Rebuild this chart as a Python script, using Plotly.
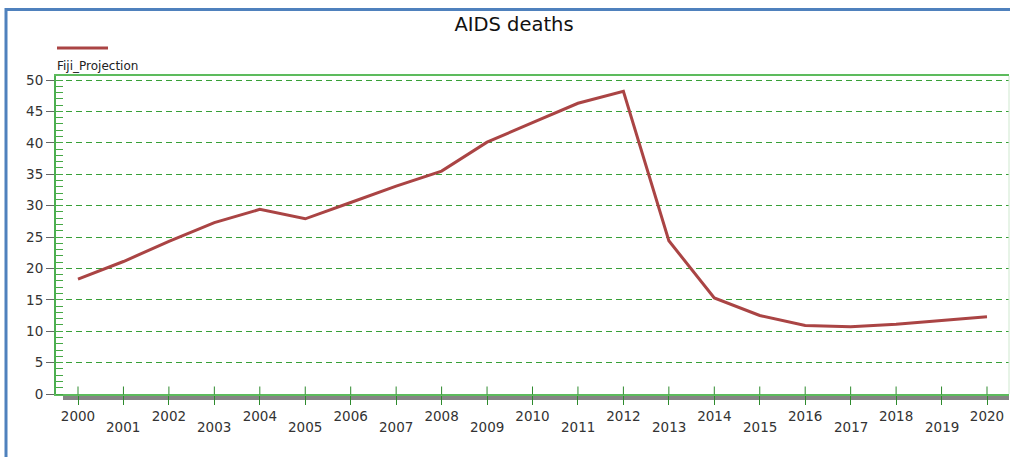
import plotly.graph_objects as go

# ---- data ----
years = list(range(2000, 2021))
fiji_projection = [18.3, 21.1, 24.3, 27.3, 29.4, 27.9, 30.5, 33.1, 35.5, 40.1,
                   43.2, 46.3, 48.2, 24.4, 15.3, 12.5, 10.9, 10.7, 11.1, 11.7, 12.3]
y_ticks = [0, 5, 10, 15, 20, 25, 30, 35, 40, 45, 50]
even_labels = [str(y) if y % 2 == 0 else "" for y in years]
odd_years = [y for y in years if y % 2 == 1]

# ---- layout geometry (pixels) ----
W, H = 1010, 457
L, R, T, B = 56, 1, 76, 62.5
PW, PH = W - L - R, H - T - B
X_RANGE = [1999.516, 2020.484]

def pxx(px):
    return (px - L) / PW

def pxy(py):
    return (H - B - py) / PH

LINE_COLOR = "#AA4444"
GREEN = "#38A038"
FONT = "DejaVu Sans"
TICKFONT = dict(family=FONT, size=13.5, color="#333333")

fig = go.Figure()
fig.add_trace(go.Scatter(
    x=years, y=fiji_projection, mode="lines", name="Fiji_Projection",
    line=dict(color=LINE_COLOR, width=3), showlegend=False,
))

shapes = []
# blue frame (top and left)
shapes.append(dict(type="line", xref="paper", yref="paper",
                   x0=pxx(5), x1=pxx(W), y0=pxy(9.5), y1=pxy(9.5),
                   line=dict(color="#4F81BD", width=3)))
shapes.append(dict(type="line", xref="paper", yref="paper",
                   x0=pxx(6), x1=pxx(6), y0=pxy(8), y1=pxy(H + 5),
                   line=dict(color="#4F81BD", width=3)))
# right light green border
shapes.append(dict(type="line", xref="paper", yref="paper",
                   x0=1, x1=1, y0=0, y1=1,
                   line=dict(color="#CFE8CF", width=1)))
# gray floor band below x axis
shapes.append(dict(type="rect", xref="paper", yref="paper",
                   x0=pxx(63), x1=1, y0=pxy(400.5), y1=pxy(395),
                   fillcolor="#858585", line=dict(width=0), layer="below"))
# inside part of x ticks
for yr in years:
    shapes.append(dict(type="line", xref="x", yref="paper",
                       x0=yr, x1=yr, y0=pxy(395), y1=pxy(387),
                       line=dict(color="#2E8B2E", width=1)))
# legend sample line
shapes.append(dict(type="line", xref="paper", yref="paper",
                   x0=pxx(57), x1=pxx(108), y0=pxy(48), y1=pxy(48),
                   line=dict(color=LINE_COLOR, width=3)))

annotations = [dict(text="Fiji_Projection", xref="paper", yref="paper",
                    x=pxx(55), y=pxy(65.5), xanchor="left", yanchor="middle",
                    showarrow=False, font=dict(family=FONT, size=12, color="#222222"))]
# second (staggered) row of x tick labels for odd years
for yr in odd_years:
    annotations.append(dict(text=str(yr), xref="x", yref="paper",
                            x=yr, y=pxy(428), xanchor="center", yanchor="middle",
                            showarrow=False, font=TICKFONT))

fig.update_layout(
    width=W, height=H,
    margin=dict(l=L, r=R, t=T, b=B, pad=0),
    paper_bgcolor="white", plot_bgcolor="white",
    font=dict(family=FONT, color="#333333"),
    title=dict(text="AIDS deaths", x=514 / W, xanchor="center",
               y=1 - 24 / H, yanchor="middle",
               font=dict(family=FONT, size=19.5, color="#111111")),
    shapes=shapes,
    annotations=annotations,
    xaxis=dict(
        range=X_RANGE, tickvals=years, ticktext=even_labels,
        ticks="outside", ticklen=9, tickcolor="#2E8B2E", tickwidth=1,
        tickfont=TICKFONT, tickangle=0,
        showgrid=False, zeroline=False,
        showline=True, linecolor="#5DBB5D", linewidth=2, mirror=True,
    ),
    yaxis=dict(
        range=[0, 50.64], tickvals=y_ticks,
        ticks="outside", ticklen=8, tickcolor="#666666", tickwidth=1,
        tickfont=TICKFONT,
        showgrid=True, gridcolor=GREEN, griddash="6px,4px", gridwidth=1,
        zeroline=False,
        showline=True, linecolor="#4CAF50", linewidth=2,
        minor=dict(dtick=1, ticks="inside", ticklen=7, tickcolor="#45A845",
                   tickwidth=1, showgrid=False),
    ),
)

fig.write_html(
    "out.html",
    config={"displayModeBar": False},
    post_script="document.body.style.margin='0px';document.body.style.overflow='hidden';",
)
